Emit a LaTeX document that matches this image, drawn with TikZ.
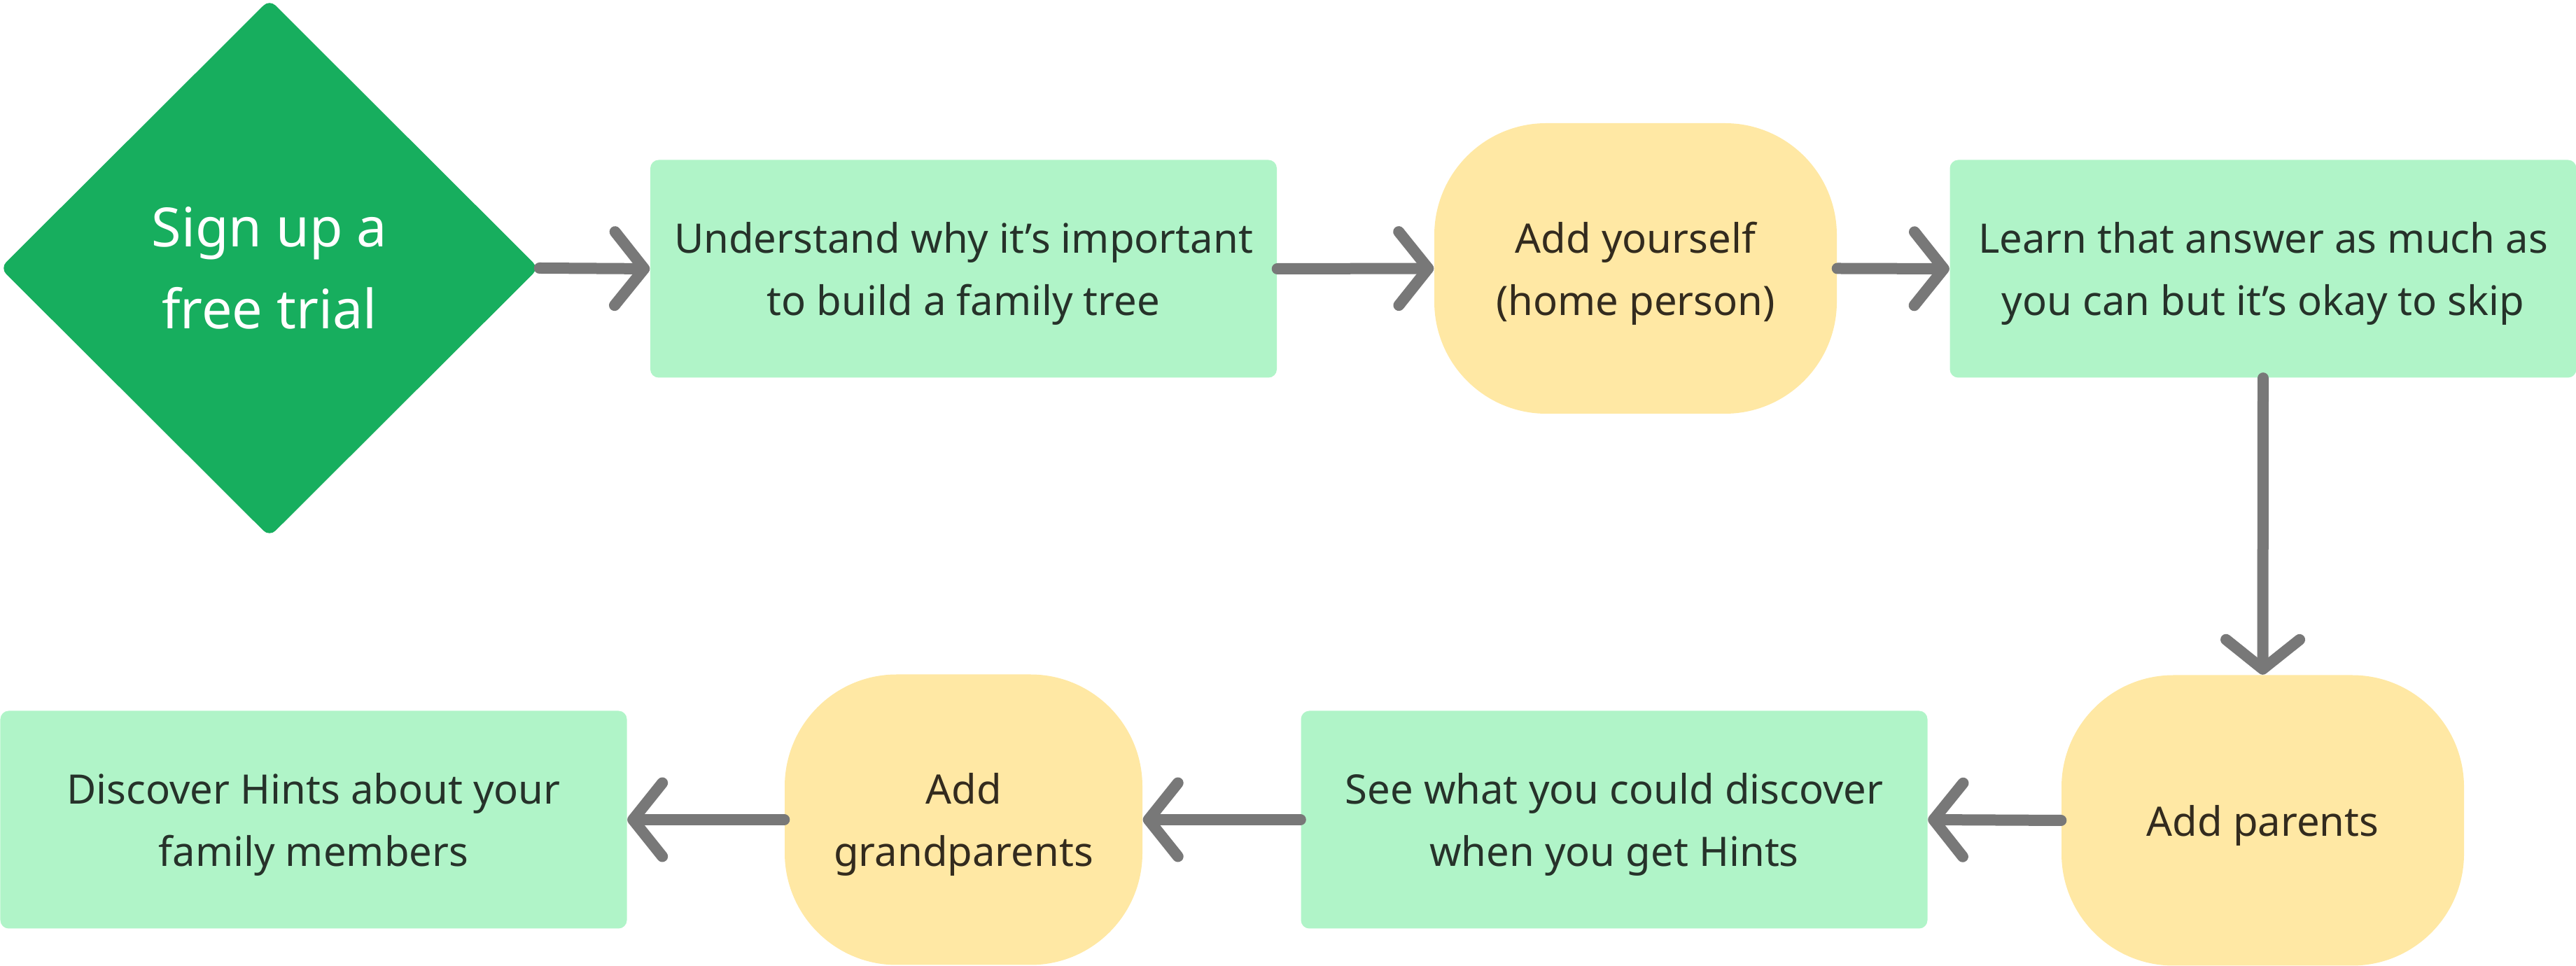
\documentclass[tikz,border=0pt]{standalone}
\usepackage{fontspec}
\setmainfont{Noto Sans}
\usetikzlibrary{shapes.geometric,arrows.meta}
\definecolor{startgreen}{HTML}{17AE5E}
\definecolor{boxgreen}{HTML}{B0F4C8}
\definecolor{pillyellow}{HTML}{FFE8A4}
\definecolor{flowgray}{HTML}{787878}
\definecolor{inkgreen}{HTML}{26322A}
\definecolor{inkbrown}{HTML}{332B1E}
\begin{document}
\begin{tikzpicture}[
  startdia/.style={diamond,fill=startgreen,text=white,align=center,inner sep=0pt,
    minimum width=7.7cm,minimum height=7.68cm,rounded corners=0.12cm,
    font=\fontsize{22}{33.3}\selectfont,text depth=-3.4pt},
  stepbox/.style={rectangle,fill=boxgreen,text=inkgreen,align=center,inner sep=0pt,
    minimum width=8.95cm,minimum height=3.11cm,rounded corners=0.12cm,
    font=\fontsize{16.5}{25.3}\selectfont,text depth=0pt},
  pill/.style={rectangle,fill=pillyellow,text=inkbrown,align=center,inner sep=0pt,
    minimum width=5.75cm,minimum height=4.15cm,rounded corners=1.6cm,
    font=\fontsize{16.5}{25.3}\selectfont,text depth=0pt},
  flow/.style={draw=flowgray,line width=0.16cm,line cap=round,line join=round,
    -{Straight Barb[length=0.42cm,width=1.05cm,line cap=round,line join=round]}}
]
\useasboundingbox (0,0) rectangle (36.8,13.8);
% top row
\node[startdia] (signup) at (3.85,9.97) {Sign up a\\free trial};
\node[stepbox] (understand) at (13.765,9.96) {Understand why it’s important\\to build a family tree};
\node[pill] (addself) at (23.365,9.965) {Add yourself\\(home person)};
\node[stepbox] (learn) at (32.33,9.96) {Learn that answer as much as\\you can but it’s okay to skip};
% bottom row
\node[pill] (parents) at (32.325,2.08) {Add parents};
\node[stepbox] (see) at (23.06,2.09) {See what you could discover\\when you get Hints};
\node[pill,minimum width=5.11cm] (grand) at (13.765,2.09) {Add\\grandparents};
\node[stepbox] (discover) at (4.48,2.09) {Discover Hints about your\\family members};
% arrows
\draw[flow] (signup.east) -- (understand.west);
\draw[flow] (understand.east) -- (addself.west);
\draw[flow] (addself.east) -- (learn.west);
\draw[flow] (learn.south) -- (parents.north);
\draw[flow] (parents.west) -- (see.east);
\draw[flow] (see.west) -- (grand.east);
\draw[flow] (grand.west) -- (discover.east);
\end{tikzpicture}
\end{document}
